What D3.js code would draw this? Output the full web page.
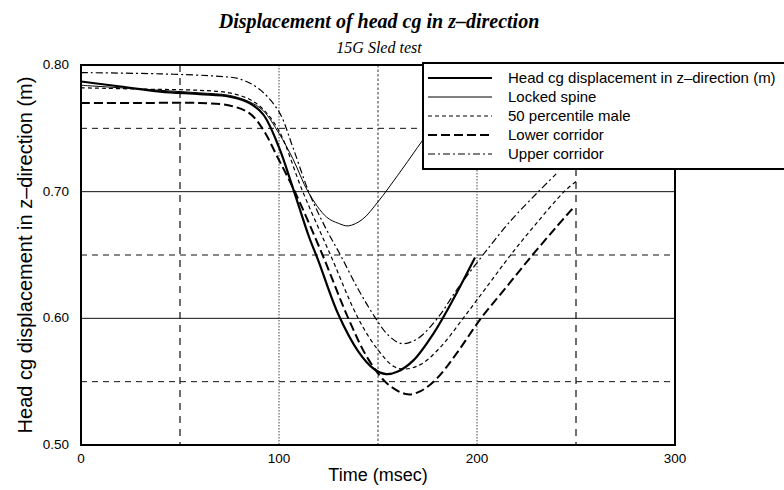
<!DOCTYPE html>
<html>
<head>
<meta charset="utf-8">
<script src="https://cdn.jsdelivr.net/npm/d3@7"></script>
<style>
body { margin: 0; background: #fff; }
</style>
</head>
<body>
<div id="chart"></div>
<script>
// values: [time msec, displacement m]
var head = [[0,0.787],[20,0.783],[40,0.779],[60,0.777],[75,0.775],[85,0.770],[92,0.761],[100,0.735],[107,0.703],[115,0.665],[120,0.645],[130,0.603],[140,0.574],[148,0.560],[154,0.556],[160,0.558],[168,0.567],[178,0.588],[188,0.615],[199,0.648]]
var locked = [[0,0.784],[20,0.782],[40,0.780],[60,0.778],[75,0.776],[85,0.771],[92,0.764],[100,0.746],[107,0.726],[115,0.699],[124,0.680],[130,0.675],[135,0.673],[142,0.678],[150,0.692],[160,0.713],[170,0.735],[180,0.757],[186,0.770]]
var fifty = [[0,0.782],[30,0.781],[60,0.780],[75,0.778],[85,0.773],[92,0.765],[100,0.748],[112,0.700],[126,0.650],[140,0.600],[150,0.575],[158,0.562],[164,0.560],[172,0.564],[182,0.578],[193,0.600],[205,0.625],[217,0.650],[230,0.675],[244,0.700],[250,0.708]]
var lower = [[0,0.770],[30,0.770],[60,0.770],[75,0.768],[85,0.762],[92,0.749],[99,0.728],[108,0.700],[122,0.650],[135,0.600],[145,0.568],[155,0.548],[165,0.540],[172,0.543],[180,0.553],[190,0.573],[202,0.600],[215,0.625],[228,0.650],[240,0.672],[249,0.688]]
var upper = [[0,0.794],[40,0.793],[70,0.791],[80,0.789],[90,0.781],[100,0.763],[107,0.735],[115,0.700],[123,0.673],[131,0.650],[140,0.623],[148,0.602],[155,0.587],[162,0.580],[170,0.584],[180,0.600],[190,0.623],[203,0.650],[217,0.677],[231,0.700],[240,0.714]]

var xTicks = [0, 100, 200, 300]
var yTicks = [0.50, 0.60, 0.70, 0.80]
var legendNames = ['Head cg displacement in z\u2013direction (m)', 'Locked spine', '50 percentile male', 'Lower corridor', 'Upper corridor']

var chart_width = 784
var chart_height = 490
var pLeft = 81, pRight = 675, pTop = 65, pBottom = 445

var svg = d3.select('#chart')
    .append('svg')
    .attr('width', chart_width)
    .attr('height', chart_height)

var x = d3.scaleLinear().domain([0, 300]).range([pLeft, pRight])
var y = d3.scaleLinear().domain([0.5, 0.8]).range([pBottom, pTop])

// grid
var hGrid = [
    {v: 0.55, dash: '6,5', w: 1},
    {v: 0.60, dash: null, w: 1},
    {v: 0.65, dash: '6,5', w: 1},
    {v: 0.70, dash: null, w: 1},
    {v: 0.75, dash: '6,5', w: 1}
]
svg.selectAll('.hgrid')
    .data(hGrid)
    .enter()
    .append('line')
    .attr('x1', pLeft).attr('x2', pRight)
    .attr('y1', function(d){ return y(d.v) })
    .attr('y2', function(d){ return y(d.v) })
    .attr('stroke', '#111')
    .attr('stroke-width', function(d){ return d.w })
    .attr('stroke-dasharray', function(d){ return d.dash })

var vGrid = [
    {v: 50, dash: '7,6', w: 1.2, c: '#111'},
    {v: 100, dash: '1.5,1.5', w: 1, c: '#444'},
    {v: 150, dash: '2.5,2', w: 1, c: '#333'},
    {v: 200, dash: '1.5,1.5', w: 1, c: '#444'},
    {v: 250, dash: '7,6', w: 1.2, c: '#111'}
]
svg.selectAll('.vgrid')
    .data(vGrid)
    .enter()
    .append('line')
    .attr('y1', pTop).attr('y2', pBottom)
    .attr('x1', function(d){ return x(d.v) })
    .attr('x2', function(d){ return x(d.v) })
    .attr('stroke', function(d){ return d.c })
    .attr('stroke-width', function(d){ return d.w })
    .attr('stroke-dasharray', function(d){ return d.dash })

// curves
var line = d3.line()
    .x(function(d){ return x(d[0]) })
    .y(function(d){ return y(d[1]) })
    .curve(d3.curveCatmullRom)

var series = [
    {data: head, w: 2.2, dash: null},
    {data: locked, w: 1, dash: null},
    {data: fifty, w: 1.2, dash: '4,3'},
    {data: lower, w: 2, dash: '9,4'},
    {data: upper, w: 1.2, dash: '7,3,2,3'}
]
svg.selectAll('.curve')
    .data(series)
    .enter()
    .append('path')
    .attr('d', function(d){ return line(d.data) })
    .attr('fill', 'none')
    .attr('stroke', '#000')
    .attr('stroke-width', function(d){ return d.w })
    .attr('stroke-dasharray', function(d){ return d.dash })

// frame
svg.append('rect')
    .attr('x', pLeft).attr('y', pTop)
    .attr('width', pRight - pLeft).attr('height', pBottom - pTop)
    .attr('fill', 'none')
    .attr('stroke', '#000')
    .attr('stroke-width', 2)

// axes labels
svg.selectAll('.xt')
    .data(xTicks)
    .enter()
    .append('text')
    .text(function(d){ return d })
    .attr('x', function(d){ return x(d) })
    .attr('y', pBottom + 18)
    .attr('text-anchor', 'middle')
    .attr('font-family', 'Liberation Sans, Arial, sans-serif')
    .attr('font-size', 13.5)

svg.selectAll('.yt')
    .data(yTicks)
    .enter()
    .append('text')
    .text(function(d){ return d.toFixed(2) })
    .attr('x', pLeft - 12)
    .attr('y', function(d){ return y(d) + 4 })
    .attr('text-anchor', 'end')
    .attr('font-family', 'Liberation Sans, Arial, sans-serif')
    .attr('font-size', 13.5)

svg.append('text')
    .text('Time (msec)')
    .attr('x', (pLeft + pRight) / 2)
    .attr('y', 481)
    .attr('text-anchor', 'middle')
    .attr('font-family', 'Liberation Sans, Arial, sans-serif')
    .attr('font-size', 18)

svg.append('text')
    .text('Head cg displacement in z\u2013direction (m)')
    .attr('transform', 'translate(32,' + (pTop + pBottom) / 2 + ') rotate(-90)')
    .attr('text-anchor', 'middle')
    .attr('font-family', 'Liberation Sans, Arial, sans-serif')
    .attr('font-size', 20)

// titles
svg.append('text')
    .text('Displacement of head cg in z\u2013direction')
    .attr('x', 379)
    .attr('y', 28)
    .attr('text-anchor', 'middle')
    .attr('font-family', 'Liberation Serif, Times New Roman, serif')
    .attr('font-style', 'italic')
    .attr('font-weight', 'bold')
    .attr('font-size', 20)

svg.append('text')
    .text('15G Sled test')
    .attr('x', 379)
    .attr('y', 53)
    .attr('text-anchor', 'middle')
    .attr('font-family', 'Liberation Serif, Times New Roman, serif')
    .attr('font-style', 'italic')
    .attr('font-size', 16)

// legend
var lg = svg.append('g')
lg.append('rect')
    .attr('x', 423).attr('y', 63)
    .attr('width', 380).attr('height', 106)
    .attr('fill', '#fff')
    .attr('stroke', '#000')
    .attr('stroke-width', 2)

lg.selectAll('.ll')
    .data(series)
    .enter()
    .append('line')
    .attr('x1', 428).attr('x2', 492)
    .attr('y1', function(d, i){ return 78 + i * 19 })
    .attr('y2', function(d, i){ return 78 + i * 19 })
    .attr('stroke', '#000')
    .attr('stroke-width', function(d){ return d.w })
    .attr('stroke-dasharray', function(d){ return d.dash })

lg.selectAll('.lt')
    .data(legendNames)
    .enter()
    .append('text')
    .text(function(d){ return d })
    .attr('x', 508)
    .attr('y', function(d, i){ return 78 + i * 19 + 5 })
    .attr('font-family', 'Liberation Sans, Arial, sans-serif')
    .attr('font-size', 15)
</script>
</body>
</html>
